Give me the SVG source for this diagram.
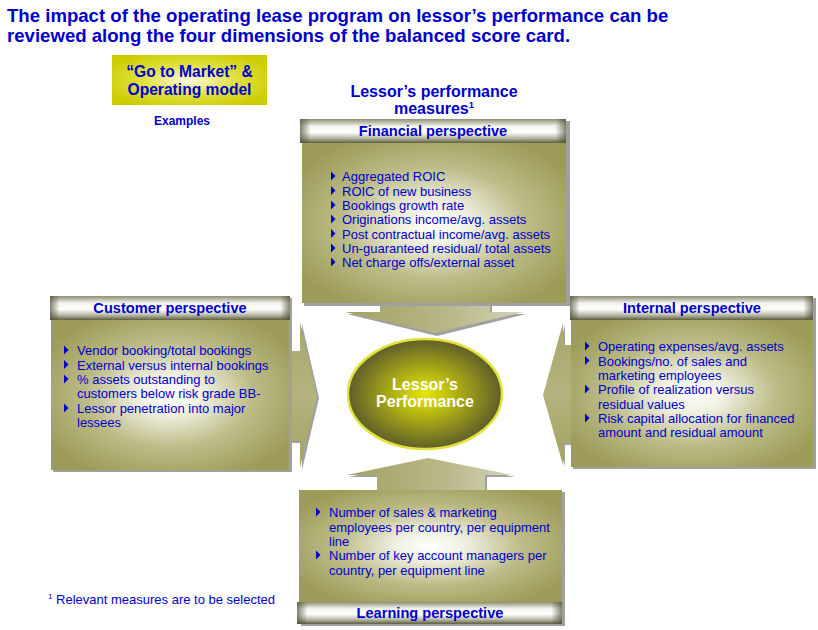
<svg xmlns="http://www.w3.org/2000/svg" width="818" height="630" viewBox="0 0 818 630">
<defs>
<linearGradient id="bar" x1="0" y1="0" x2="0" y2="1">
<stop offset="0" stop-color="#8e8e74"/>
<stop offset="0.3" stop-color="#f4f4ee"/>
<stop offset="0.55" stop-color="#ffffff"/>
<stop offset="0.8" stop-color="#b8b8a4"/>
<stop offset="1" stop-color="#5e5e40"/>
</linearGradient>
<linearGradient id="barEnds" x1="0" y1="0" x2="1" y2="0">
<stop offset="0" stop-color="#4e4e34" stop-opacity="0.7"/>
<stop offset="0.04" stop-color="#4e4e34" stop-opacity="0"/>
<stop offset="0.96" stop-color="#4e4e34" stop-opacity="0"/>
<stop offset="1" stop-color="#4e4e34" stop-opacity="0.7"/>
</linearGradient>
<radialGradient id="body" cx="0.5" cy="0.5" r="0.6">
<stop offset="0" stop-color="#ffffff"/>
<stop offset="0.22" stop-color="#f0f0e2"/>
<stop offset="0.58" stop-color="#bdbc88"/>
<stop offset="1" stop-color="#9c9b57"/>
</radialGradient>
<linearGradient id="arrV" x1="0" y1="0" x2="1" y2="0">
<stop offset="0" stop-color="#a3a262"/>
<stop offset="0.6" stop-color="#b9b88a"/>
<stop offset="1" stop-color="#d4d4b8"/>
</linearGradient>
<linearGradient id="arrH" x1="0" y1="0" x2="0" y2="1">
<stop offset="0" stop-color="#a8a76a"/>
<stop offset="0.5" stop-color="#b4b37e"/>
<stop offset="1" stop-color="#a3a262"/>
</linearGradient>
<radialGradient id="ell" cx="0.5" cy="0.5" r="0.5">
<stop offset="0" stop-color="#e6e600"/>
<stop offset="0.4" stop-color="#b2b214"/>
<stop offset="1" stop-color="#5e5e2a"/>
</radialGradient>
<radialGradient id="yel" cx="0.5" cy="0.5" r="0.6">
<stop offset="0" stop-color="#fbfbe0"/>
<stop offset="0.5" stop-color="#e0e040"/>
<stop offset="1" stop-color="#cccc00"/>
</radialGradient>
<polygon id="bul" points="0,-4.5 4.5,0 0,4.5"/>
</defs>
<style>
text{font-family:"Liberation Sans",Arial,sans-serif;fill:#0000cc}
.t{font-size:18.6px;font-weight:bold}
.h{font-size:14.6px;font-weight:bold;text-anchor:middle}
.m{font-size:15.6px;font-weight:bold;text-anchor:middle}
.m2{font-size:16px;font-weight:bold;text-anchor:middle}
.b{font-size:13px}
.w{fill:#ffffff;font-size:16px;font-weight:bold;text-anchor:middle}
.sh{fill:#a0a0a0}
.body{fill:url(#body)}
.bar{fill:url(#bar)}
.ends{fill:url(#barEnds)}
.bu{fill:#0000cc}
</style>
<rect width="818" height="630" fill="#ffffff"/>

<text class="t" x="7" y="22">The impact of the operating lease program on lessor’s performance can be</text>
<text class="t" x="7" y="42">reviewed along the four dimensions of the balanced score card.</text>

<g id="gotomarket">
<rect x="112" y="55" width="155" height="50" fill="url(#yel)"/>
<text class="m" x="189.5" y="77">“Go to Market” &amp;</text>
<text class="m" x="189.5" y="95">Operating model</text>
</g>
<text x="182" y="125" style="font-size:12px;font-weight:bold;text-anchor:middle">Examples</text>

<g id="measures-title">
<text class="m2" x="434" y="97">Lessor’s performance</text>
<text class="m2" x="434" y="114">measures<tspan style="font-size:9.5px" dy="-6">1</tspan></text>
</g>

<g id="connectors">
<polygon class="sh" points="382,303 492,303 492,314 526,314 437,336 347,314 382,314"/>
<polygon fill="url(#arrV)" points="380,301 490,301 490,312 524,312 435,333 345,312 380,312"/>
<polygon class="sh" points="289,353 302,353 302,324 319,398 302,470 302,443 289,443"/>
<polygon fill="url(#arrH)" points="287,351 300,351 300,322 317,396 300,468 300,441 287,441"/>
<polygon class="sh" points="573,347 565,347 565,325 545,397 565,467 565,445 573,445"/>
<polygon fill="url(#arrH)" points="573,345 563,345 563,323 543,395 563,465 563,443 573,443"/>
<polygon class="sh" points="379,492 379,477 349,477 430,460 515,477 487,477 487,492"/>
<polygon fill="url(#arrV)" points="377,492 377,475 347,475 428,458 513,475 485,475 485,492"/>
</g>

<g id="financial">
<rect class="sh" x="304" y="121" width="266" height="185"/>
<rect class="body" x="302" y="143" width="264" height="160"/>
<rect class="bar" x="300" y="119" width="266" height="24"/>
<rect class="ends" x="300" y="119" width="266" height="24"/>
<text class="h" x="433" y="136">Financial perspective</text>
<use href="#bul" class="bu" x="331" y="176"/>
<use href="#bul" class="bu" x="331" y="190.5"/>
<use href="#bul" class="bu" x="331" y="205"/>
<use href="#bul" class="bu" x="331" y="219"/>
<use href="#bul" class="bu" x="331" y="233.5"/>
<use href="#bul" class="bu" x="331" y="248"/>
<use href="#bul" class="bu" x="331" y="262"/>
<text class="b" x="342" y="181">Aggregated ROIC</text>
<text class="b" x="342" y="195.5">ROIC of new business</text>
<text class="b" x="342" y="210">Bookings growth rate</text>
<text class="b" x="342" y="224">Originations income/avg. assets</text>
<text class="b" x="342" y="238.5">Post contractual income/avg. assets</text>
<text class="b" x="342" y="253">Un-guaranteed residual/ total assets</text>
<text class="b" x="342" y="267">Net charge offs/external asset</text>
</g>

<g id="customer">
<rect class="sh" x="53" y="298" width="239" height="174"/>
<rect class="body" x="51" y="320" width="238" height="150"/>
<rect class="bar" x="50" y="296" width="240" height="24"/>
<rect class="ends" x="50" y="296" width="240" height="24"/>
<text class="h" x="170" y="313">Customer perspective</text>
<use href="#bul" class="bu" x="64" y="350"/>
<use href="#bul" class="bu" x="64" y="364.5"/>
<use href="#bul" class="bu" x="64" y="379"/>
<use href="#bul" class="bu" x="64" y="408"/>
<text class="b" x="77" y="355">Vendor booking/total bookings</text>
<text class="b" x="77" y="369.5">External versus internal bookings</text>
<text class="b" x="77" y="384">% assets outstanding to</text>
<text class="b" x="77" y="398">customers below risk grade BB-</text>
<text class="b" x="77" y="412.5">Lessor penetration into major</text>
<text class="b" x="77" y="427">lessees</text>
</g>

<g id="internal">
<rect class="sh" x="573" y="298" width="243" height="171"/>
<rect class="body" x="571" y="320" width="242" height="147"/>
<rect class="bar" x="570" y="296" width="243" height="24"/>
<rect class="ends" x="570" y="296" width="243" height="24"/>
<text class="h" x="692" y="313">Internal perspective</text>
<use href="#bul" class="bu" x="585" y="346"/>
<use href="#bul" class="bu" x="585" y="360.5"/>
<use href="#bul" class="bu" x="585" y="389"/>
<use href="#bul" class="bu" x="585" y="418"/>
<text class="b" x="598" y="351">Operating expenses/avg. assets</text>
<text class="b" x="598" y="365.5">Bookings/no. of sales and</text>
<text class="b" x="598" y="380">marketing employees</text>
<text class="b" x="598" y="394">Profile of realization versus</text>
<text class="b" x="598" y="408.5">residual values</text>
<text class="b" x="598" y="423">Risk capital allocation for financed</text>
<text class="b" x="598" y="437">amount and residual amount</text>
</g>

<g id="learning">
<rect class="sh" x="301" y="492" width="264" height="134"/>
<rect class="body" x="299" y="490" width="263" height="112"/>
<rect class="bar" x="297" y="602" width="265" height="22"/>
<rect class="ends" x="297" y="602" width="265" height="22"/>
<text class="h" x="430" y="618">Learning perspective</text>
<use href="#bul" class="bu" x="316" y="512"/>
<use href="#bul" class="bu" x="316" y="555"/>
<text class="b" x="329" y="517">Number of sales &amp; marketing</text>
<text class="b" x="329" y="531.5">employees per country, per equipment</text>
<text class="b" x="329" y="546">line</text>
<text class="b" x="329" y="560">Number of key account managers per</text>
<text class="b" x="329" y="574.5">country, per equipment line</text>
</g>

<g id="performance">
<ellipse cx="425" cy="394" rx="77" ry="55" fill="url(#ell)" stroke="#e2e23a" stroke-width="2.5"/>
<text class="w" x="425" y="390">Lessor’s</text>
<text class="w" x="425" y="407">Performance</text>
</g>

<text class="b" x="48" y="604"><tspan style="font-size:8px" dy="-5">1</tspan><tspan dy="5"> Relevant measures are to be selected</tspan></text>
</svg>
